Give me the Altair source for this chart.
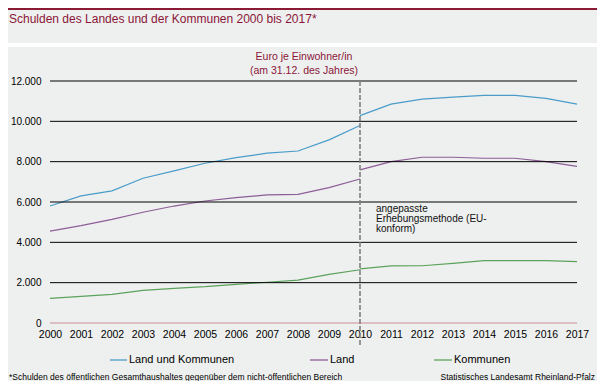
import altair as alt
import pandas as pd

# ---- data ----
years_before = list(range(2000, 2011))
years_after = list(range(2010, 2018))
series_names = ["Land und Kommunen", "Land", "Kommunen"]
series_colors = ["#4a9cc9", "#8c5d97", "#5ba25b"]

land_kommunen_before = [5800, 6300, 6550, 7180, 7540, 7920, 8200, 8420, 8530, 9080, 9790]
land_kommunen_after = [10280, 10850, 11100, 11200, 11290, 11290, 11140, 10850]
land_before = [4560, 4830, 5140, 5490, 5800, 6050, 6215, 6350, 6380, 6710, 7140]
land_after = [7590, 8000, 8220, 8220, 8170, 8170, 8000, 7770]
kommunen_before = [1225, 1320, 1420, 1620, 1720, 1800, 1920, 2020, 2130, 2415, 2640]
kommunen_after = [2680, 2830, 2840, 2960, 3090, 3090, 3090, 3040]

y_ticks = [0, 2000, 4000, 6000, 8000, 10000, 12000]
x_ticks = list(range(2000, 2018))
break_year = 2010

title_text = "Schulden des Landes und der Kommunen 2000 bis 2017*"
unit_text = ["Euro je Einwohner/in", "(am 31.12. des Jahres)"]
method_text = ["angepasste", "Erhebungsmethode  (EU-", "konform)"]
footnote_text = "*Schulden des öffentlichen Gesamthaushaltes gegenüber  dem nicht-öffentlichen Bereich"
source_text = "Statistisches Landesamt Rheinland-Pfalz"

# ---- build table ----
rows = []
for name, before, after in [
    (series_names[0], land_kommunen_before, land_kommunen_after),
    (series_names[1], land_before, land_after),
    (series_names[2], kommunen_before, kommunen_after),
]:
    for y, v in zip(years_before, before):
        rows.append({"series": name, "year": y, "value": v, "seg": "vor"})
    for y, v in zip(years_after, after):
        rows.append({"series": name, "year": y, "value": v, "seg": "nach"})
df = pd.DataFrame(rows)

FONT = "Liberation Sans"
RED = "#8b1538"
W, H = 527, 242

xscale = alt.Scale(domain=[2000, 2017], nice=False, zero=False)
yscale = alt.Scale(domain=[0, 12000], nice=False, zero=True)

xaxis = alt.Axis(values=x_ticks, format="d", grid=False, ticks=False, domain=False,
                 title=None, labelFontSize=10.5, labelColor="#000",
                 labelPadding=6, labelFont=FONT, labelOverlap=False,
                 labelBound=False, labelFlush=False)
yaxis = alt.Axis(values=y_ticks, grid=False, ticks=False, domain=False, title=None,
                 labelExpr="replace(format(datum.value, ','), ',', '.')",
                 labelFontSize=10, labelColor="#000", labelPadding=9, labelFont=FONT,
                 labelOverlap=False)

one = pd.DataFrame({"a": [0]})

lines = alt.Chart(df).mark_line(strokeWidth=1.2).encode(
    x=alt.X("year:Q", scale=xscale, axis=xaxis),
    y=alt.Y("value:Q", scale=yscale, axis=yaxis),
    color=alt.Color("series:N", scale=alt.Scale(domain=series_names, range=series_colors), legend=None),
    detail="seg:N",
)

grid = alt.Chart(pd.DataFrame({"value": y_ticks[1:]})).mark_rule(color="#000", strokeWidth=1).encode(
    y=alt.Y("value:Q", scale=yscale, axis=yaxis)
)
zero = alt.Chart(pd.DataFrame({"value": [0]})).mark_rule(color="#c98c97", strokeWidth=1.2).encode(
    y=alt.Y("value:Q", scale=yscale, axis=yaxis)
)
vline = alt.Chart(pd.DataFrame({"year": [break_year]})).mark_rule(
    color="#7f7f7f", strokeWidth=1.6, strokeDash=[5, 2]
).encode(
    x=alt.X("year:Q", scale=xscale, axis=xaxis), y=alt.value(0), y2=alt.value(264)
)

def txt(text, x, y, size, color="#000", align="left", lh=None):
    kw = dict(text=text, fontSize=size, color=color, align=align, baseline="middle", font=FONT)
    if lh is not None:
        kw["lineHeight"] = lh
    return alt.Chart(one).mark_text(**kw).encode(x=alt.value(x), y=alt.value(y))

def rect(x, x2, y, y2, color):
    return alt.Chart(one).mark_rect(color=color).encode(
        x=alt.value(x), x2=alt.value(x2), y=alt.value(y), y2=alt.value(y2))

def seg(x, x2, y, color):
    return alt.Chart(one).mark_rule(color=color, strokeWidth=1.3).encode(
        x=alt.value(x), x2=alt.value(x2), y=alt.value(y))

layers = [
    rect(-42, 547, -73, -71, "#8b1a35"),
    rect(-42, 547, -38, -34, "#ffffff"),
    lines, grid, zero, vline,
    txt(title_text, -41, -62, 12, RED),
    txt(unit_text, 254, -24, 10.5, RED, "center", 14),
    txt(method_text, 326, 128, 10, "#111", "left", 10),
    seg(60, 77, 279, series_colors[0]), txt(series_names[0], 79, 279, 11),
    seg(260, 278, 279, series_colors[1]), txt(series_names[1], 280, 279, 11),
    seg(384, 402, 279, series_colors[2]), txt(series_names[2], 404, 279, 11),
    txt(footnote_text, -41, 296, 8.5),
    txt(source_text, 545, 296, 8.5, "#000", "right"),
]

chart = alt.layer(*layers).properties(
    width=W, height=H,
    autosize=alt.AutoSizeParams(type="none"),
    padding={"left": 42, "top": 73, "right": 20, "bottom": 58},
).configure(background="#eef0ef", font=FONT).configure_view(stroke=None)

chart.save("out.html", embed_options={"renderer": "svg", "actions": False})
